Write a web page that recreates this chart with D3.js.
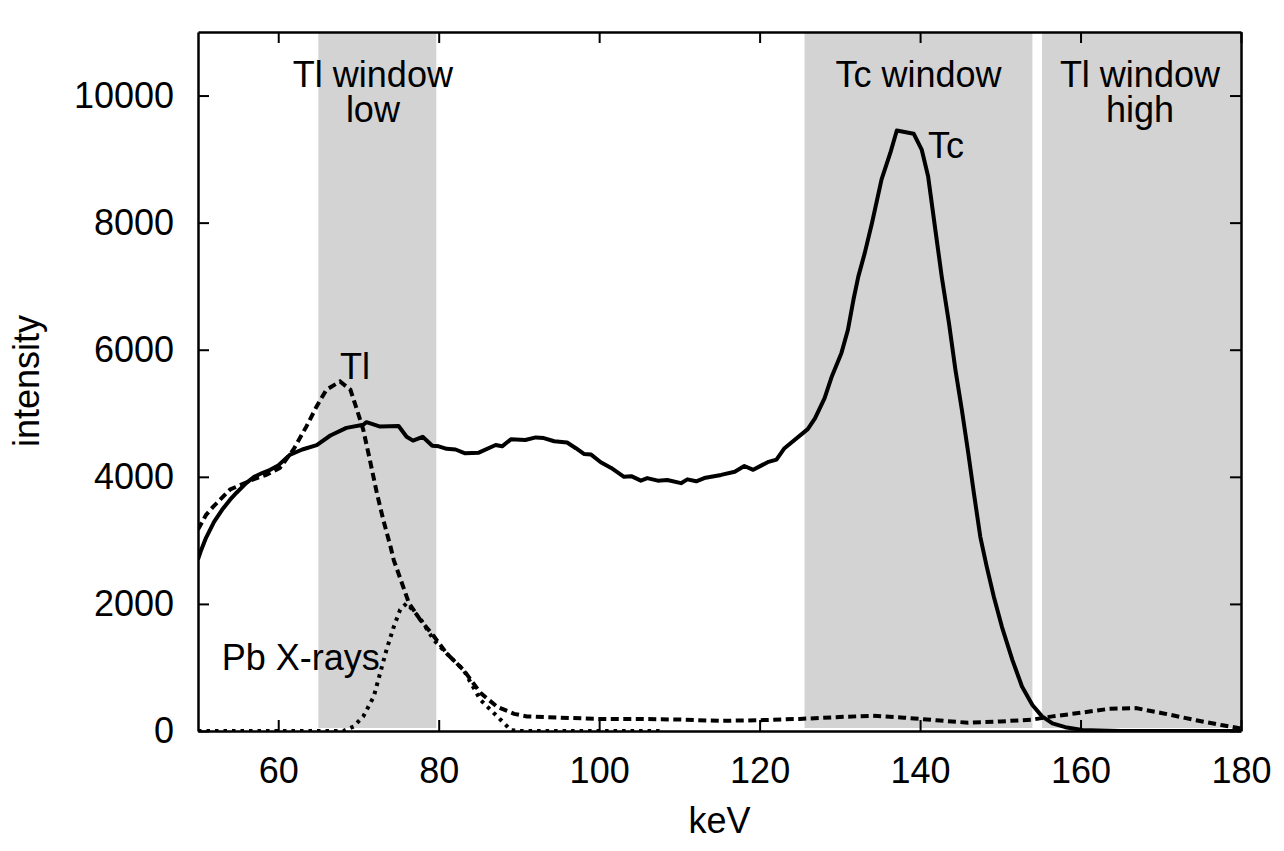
<!DOCTYPE html>
<html>
<head>
<meta charset="utf-8">
<script src="https://cdn.jsdelivr.net/npm/d3@7"></script>
<style>
  html, body { margin: 0; padding: 0; background: #fff; overflow: hidden; }
  svg { display: block; }
  text { font-family: 'Liberation Sans', Arial, sans-serif; }
</style>
</head>
<body>
<script>
// spectra (keV, counts)
var tcKeV = [50, 50.4, 51, 52, 53, 54, 54.8, 56, 57, 58, 59, 60, 61.5, 63, 64.8, 66.5, 68.5, 70.6, 71, 72.7, 75, 76, 76.8, 78, 79.2, 80, 81, 82.1, 83.3, 85, 87.1, 87.9, 89, 90.8, 92.1, 93.1, 94.4, 96, 97.1, 98.1, 99, 100.2, 101.5, 103.1, 104, 105.2, 106, 107.3, 108.5, 110.2, 111, 112.1, 113.1, 115.2, 116.9, 118.1, 119.2, 121, 122.1, 123.1, 126, 126.9, 128.1, 129, 130.2, 131, 131.7, 132.3, 133.1, 134, 135.2, 136.3, 137.1, 139.2, 140.2, 141, 141.9, 142.7, 143.6, 144.4, 145.2, 146, 146.7, 147.5, 148.3, 149.2, 150.2, 151.5, 152.7, 154, 155.2, 156.5, 158.1, 160.2, 165, 180]
var tcCounts = [2700, 2850, 3040, 3290, 3480, 3640, 3750, 3900, 4000, 4060, 4110, 4180, 4350, 4430, 4500, 4650, 4770, 4820, 4860, 4790, 4800, 4630, 4570, 4630, 4490, 4480, 4440, 4430, 4370, 4380, 4500, 4480, 4590, 4580, 4620, 4610, 4560, 4540, 4450, 4360, 4350, 4230, 4140, 4000, 4010, 3940, 3980, 3940, 3950, 3900, 3960, 3930, 3980, 4030, 4080, 4170, 4110, 4230, 4270, 4450, 4750, 4920, 5240, 5580, 5950, 6310, 6790, 7150, 7520, 7990, 8680, 9100, 9450, 9400, 9150, 8730, 7890, 7150, 6420, 5690, 5060, 4380, 3750, 3060, 2590, 2110, 1640, 1120, 700, 410, 230, 120, 60, 15, 0, 0]

var tlKeV = [50, 51, 51.9, 54, 56.9, 58.5, 60.2, 61.9, 63.5, 64.8, 66, 67.7, 69, 69.8, 70.6, 71.5, 72.3, 73.1, 74, 74.4, 76.3, 77.7, 79.4, 81, 83.1, 85.2, 87.3, 89.4, 91, 95, 100, 105, 110, 115, 120, 125, 130, 134, 138, 142, 146, 150, 154, 156.5, 160.2, 163.6, 166.9, 170.2, 174.4, 177.7, 180]
var tlCounts = [3170, 3400, 3530, 3800, 3960, 4030, 4140, 4430, 4790, 5110, 5370, 5500, 5370, 5060, 4740, 4220, 3740, 3320, 2900, 2690, 2010, 1750, 1490, 1220, 960, 600, 380, 270, 230, 210, 190, 190, 180, 160, 170, 190, 220, 240, 210, 170, 130, 150, 180, 230, 290, 350, 360, 280, 170, 90, 40]

var pbKeV = [50, 68.1, 69.4, 70.6, 71.9, 72.7, 73.5, 74.4, 75.2, 76, 77.7, 79.4, 81, 83.1, 85.2, 87.3, 89, 90, 108]
var pbCounts = [0, 0, 70, 230, 540, 910, 1280, 1640, 1910, 2010, 1770, 1430, 1220, 960, 490, 230, 15, 0, 0]

// energy windows
var windowLines = [['Tl window', 'low'], ['Tc window'], ['Tl window', 'high']]
var windowStart = [65, 125.6, 155.2]
var windowEnd = [79.7, 154, 180]

var xTicks = [60, 80, 100, 120, 140, 160, 180]
var yTicks = [0, 2000, 4000, 6000, 8000, 10000]

var height = 851
var width = 1284
var margin = { left: 198, top: 32, right: 43, bottom: 120 }
var innerHeight = height - margin.top - margin.bottom
var innerWidth = width - margin.left - margin.right

var svg = d3.select('body').append('svg').attr('height', height).attr('width', width)
var g = svg.append('g').attr('transform', `translate(${margin.left},${margin.top})`)

var xScale = d3.scaleLinear().domain([50, 180]).range([0, innerWidth])
var yScale = d3.scaleLinear().domain([0, 11000]).range([innerHeight, 0])

svg.append('clipPath').attr('id', 'plot').append('rect').attr('width', innerWidth).attr('height', innerHeight)

// gray windows
g.append('g').selectAll('rect').data(windowLines).enter().append('rect')
    .attr('x', (d, i) => xScale(windowStart[i]))
    .attr('width', (d, i) => xScale(windowEnd[i]) - xScale(windowStart[i]))
    .attr('y', 0)
    .attr('height', innerHeight - 3)
    .attr('fill', '#d3d3d3')

// window labels, one text per line
var labelFont = 36
var windowLabelX = [71.8, 139.8, 167.4]
windowLines.forEach((lines, i) => {
    lines.forEach((l, j) => {
        g.append('text').attr('text-anchor', 'middle').attr('font-size', labelFont)
            .attr('x', xScale(windowLabelX[i])).attr('y', 55 + j * 35).text(l)
    })
})

// spectra
const line = d3.line().x(d => xScale(d[0])).y(d => yScale(d[1]))
var curves = g.append('g').attr('clip-path', 'url(#plot)')

curves.append('path').datum(pbKeV.map((k, i) => [k, pbCounts[i]]))
    .attr('d', line).attr('fill', 'none').attr('stroke', '#000').attr('stroke-width', 4)
    .attr('stroke-dasharray', '3.5,5')
curves.append('path').datum(tlKeV.map((k, i) => [k, tlCounts[i]]))
    .attr('d', line).attr('fill', 'none').attr('stroke', '#000').attr('stroke-width', 4)
    .attr('stroke-dasharray', '8,4.5')
curves.append('path').datum(tcKeV.map((k, i) => [k, tcCounts[i]]))
    .attr('d', line).attr('fill', 'none').attr('stroke', '#000').attr('stroke-width', 4)
    .attr('stroke-linejoin', 'round')

// curve labels
g.append('text').attr('x', xScale(141)).attr('y', yScale(9020)).attr('font-size', labelFont).text('Tc')
g.append('text').attr('x', xScale(67.7)).attr('y', yScale(5540)).attr('font-size', labelFont).text('Tl')
g.append('text').attr('x', xScale(52.95)).attr('y', yScale(960)).attr('font-size', labelFont).text('Pb X-rays')

// axes, ticks inward on all four sides
const xAxis = d3.axisBottom(xScale).tickValues(xTicks).tickSizeInner(-11).tickSizeOuter(0).tickPadding(26)
const yAxis = d3.axisLeft(yScale).tickValues(yTicks).tickFormat(d3.format('d')).tickSizeInner(-11).tickSizeOuter(0).tickPadding(24)
const xTop = d3.axisTop(xScale).tickValues(xTicks).tickSizeInner(-11).tickSizeOuter(0).tickFormat('')
const yRight = d3.axisRight(yScale).tickValues(yTicks).tickSizeInner(-11).tickSizeOuter(0).tickFormat('')

var axes = [
    g.append('g').call(xAxis).attr('transform', `translate(0, ${innerHeight})`),
    g.append('g').call(yAxis),
    g.append('g').call(xTop),
    g.append('g').call(yRight).attr('transform', `translate(${innerWidth}, 0)`)
]
axes.forEach(a => {
    a.selectAll('path').attr('stroke-width', 2.5)
    a.selectAll('line').attr('stroke-width', 2)
    a.selectAll('text').attr('font-size', labelFont).attr('font-family', "'Liberation Sans', Arial, sans-serif").attr('fill', '#000')
})
// the top and right axes carry no labels
axes[2].selectAll('text').remove()
axes[3].selectAll('text').remove()

svg.append('text').attr('x', margin.left + innerWidth / 2).attr('y', 833)
    .attr('text-anchor', 'middle').attr('font-size', labelFont).text('keV')
svg.append('text').attr('transform', 'translate(39, 381) rotate(-90)')
    .attr('text-anchor', 'middle').attr('font-size', labelFont).text('intensity')
</script>
</body>
</html>
